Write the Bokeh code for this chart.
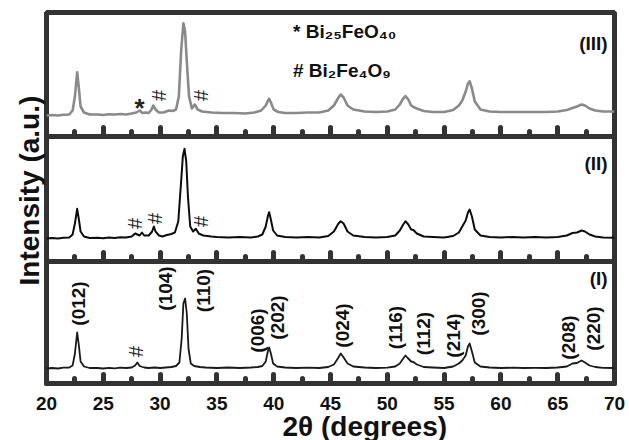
import numpy as np
from bokeh.plotting import figure
from bokeh.models import Range1d, LinearAxis, SingleIntervalTicker, Title
from bokeh.core.properties import value
from bokeh.embed import file_html
from bokeh.resources import INLINE

# ---------------- data ----------------
# Pattern (I) - bottom panel
two_theta_I = [20.0, 20.5, 21.0, 21.5, 22.0, 22.3, 22.5, 22.7, 22.85, 23.0, 23.3, 23.8, 24.5, 25.0, 25.5, 26.0,
               26.5, 27.0, 27.5, 27.8, 28.0, 28.2, 28.6, 29.0, 29.5, 30.0, 30.5, 31.0, 31.4, 31.7, 31.9, 32.05,
               32.2, 32.35, 32.5, 32.7, 33.0, 33.5, 34.0, 35.0, 36.0, 37.0, 38.0, 38.6, 39.0, 39.3, 39.5, 39.6,
               39.75, 39.95, 40.3, 41.0, 42.0, 43.0, 44.0, 44.8, 45.3, 45.7, 45.9, 46.1, 46.5, 47.0, 48.0, 49.0,
               50.0, 50.7, 51.1, 51.4, 51.6, 51.8, 52.1, 52.3, 52.6, 53.2, 54.0, 55.0, 55.8, 56.3, 56.6, 56.9,
               57.1, 57.25, 57.45, 57.7, 58.2, 59.0, 60.0, 61.0, 62.0, 63.0, 64.0, 65.0, 65.8, 66.3, 66.7, 67.1,
               67.4, 67.8, 68.3, 69.0, 70.0]
intensity_I = [15, 15.5, 15, 15.8, 16, 18, 30, 51, 38, 22, 17, 15.5, 15.5, 15, 15.7, 15.2,
               15.8, 15.5, 16, 18, 21, 17.5, 16, 15.5, 16, 15.5, 16, 16.5, 17.5, 21, 45, 80,
               85, 70, 35, 20, 17.5, 16.5, 16, 15.5, 16, 15.5, 16, 16.5, 17.5, 22, 33, 36,
               30, 20, 17, 16, 15.5, 15.8, 15.5, 16.5, 19, 26, 30, 27, 20, 17, 16, 15.5,
               15.8, 17, 20, 25, 28, 25.5, 22, 21.5, 19, 16.5, 16, 15.5, 17, 20, 23, 28,
               37, 40, 32, 21, 17, 16, 15.5, 15.8, 15.5, 15.6, 15.5, 16, 17, 20, 20.5, 23,
               21, 18, 16.5, 15.7, 15.5]

# Pattern (II) - middle panel
two_theta_II = [20.0, 20.5, 21.0, 21.5, 22.0, 22.3, 22.5, 22.7, 22.85, 23.0, 23.3, 23.8, 24.5, 25.0, 25.5, 26.0,
                26.5, 27.0, 27.5, 27.8, 28.0, 28.2, 28.4, 28.6, 29.0, 29.3, 29.45, 29.6, 29.9, 30.2, 30.6, 31.0,
                31.3, 31.6, 31.85, 32.0, 32.15, 32.3, 32.45, 32.65, 32.9, 33.15, 33.4, 33.8, 34.5, 35.0, 36.0, 37.0,
                38.0, 38.6, 39.0, 39.3, 39.5, 39.6, 39.75, 39.95, 40.3, 41.0, 42.0, 43.0, 44.0, 44.8, 45.3, 45.7,
                45.9, 46.15, 46.5, 47.0, 48.0, 49.0, 50.0, 50.7, 51.1, 51.4, 51.6, 51.85, 52.1, 52.3, 52.6, 53.2,
                54.0, 55.0, 55.8, 56.3, 56.6, 56.9, 57.1, 57.25, 57.45, 57.7, 58.2, 59.0, 60.0, 61.0, 62.0, 63.0,
                64.0, 65.0, 65.8, 66.3, 66.7, 67.1, 67.4, 67.8, 68.3, 69.0, 70.0]
intensity_II = [23, 23.5, 23, 23.8, 24, 27, 38, 52.7, 42, 30, 25, 23.5, 23.8, 23.2, 24, 23.5,
                24.2, 24, 25, 28, 27, 26, 29, 26, 26, 30, 35, 30, 26, 25, 26.5, 27.5,
                29, 40, 80, 105, 112.7, 100, 65, 35, 30, 32.7, 28, 26, 25, 24.5, 24, 24.5,
                24, 25, 27, 35, 46, 49.3, 42, 31, 26, 24.5, 24, 24.5, 24, 25.5, 30, 38,
                40.3, 38, 30, 26, 24.5, 24, 24.5, 26, 31, 37, 40.3, 37, 32, 31.5, 28, 25,
                24.5, 24, 25.5, 29, 35, 41, 49, 52, 45, 32, 26, 24.5, 24, 24.5, 24, 24.5,
                24, 24.5, 26, 28.5, 29, 31, 30, 27, 25, 24, 23.8]

# Pattern (III) - top panel
two_theta_III = [20.0, 20.5, 21.0, 21.5, 22.0, 22.3, 22.5, 22.7, 22.85, 23.0, 23.3, 23.8, 24.5, 25.0, 25.5, 26.0,
                 26.5, 27.0, 27.5, 27.9, 28.2, 28.45, 28.7, 29.0, 29.25, 29.4, 29.6, 29.9, 30.3, 30.77, 31.1, 31.4,
                 31.65, 31.85, 32.05, 32.2, 32.35, 32.55, 32.8, 33.05, 33.3, 33.7, 34.5, 35.5, 36.5, 37.5, 38.3, 38.9,
                 39.3, 39.5, 39.6, 39.75, 40.0, 40.4, 41.0, 42.0, 43.0, 44.0, 44.8, 45.3, 45.7, 45.9, 46.15, 46.5,
                 47.0, 48.0, 49.0, 50.0, 50.7, 51.1, 51.4, 51.6, 51.85, 52.1, 52.3, 52.6, 53.2, 54.0, 55.0, 55.8,
                 56.3, 56.6, 56.9, 57.1, 57.25, 57.45, 57.7, 58.2, 59.0, 60.0, 61.0, 62.0, 63.0, 64.0, 65.0, 65.8,
                 66.3, 66.7, 67.1, 67.4, 67.8, 68.3, 69.0, 70.0]
intensity_III = [21, 21.5, 21, 21.8, 22, 26, 40, 64.3, 48, 30, 24, 22, 22, 21.5, 22.3, 22,
                 22.5, 22, 23, 24, 26, 23.5, 24, 23.5, 27, 31, 27, 24, 24, 26, 25.5, 27,
                 40, 85, 113.3, 105, 75, 40, 28, 32, 27, 25, 24, 23.5, 23.5, 23, 24, 26,
                 31, 36, 37.7, 34, 27, 24.5, 23.5, 23.5, 24, 24, 26, 31, 39, 42, 39, 31,
                 27, 25, 24.5, 25, 27, 32, 38, 40.3, 37, 31, 29.5, 28, 25.5, 24.5, 24.5, 26.5,
                 31, 36, 45, 53, 55.3, 48, 35, 27, 25, 24.5, 24.5, 24.5, 24.5, 24.5, 25, 26.5,
                 28.5, 30, 32, 31, 28, 26, 25, 25]

# vertical offsets (bottom of each panel) and panel tags
panel_base = [0, 122, 247]
panel_tags = ["(I)", "(II)", "(III)"]
panel_tag_y = [105, 220, 340]

# Miller indices of the bottom pattern
hkl_text = ["(012)", "(104)", "(110)", "(006)", "(202)", "(024)", "(116)", "(112)", "(214)", "(300)", "(208)", "(220)"]
hkl_x = [22.8, 30.5, 33.8, 38.6, 40.3, 46.1, 50.7, 53.2, 55.8, 58.0, 65.95, 68.15]
hkl_y = [80, 95, 93, 53, 66, 58, 56, 50, 48, 70, 46, 55]

# impurity markers
hash_x = [29.86, 33.56, 27.83, 29.51, 33.64, 27.92]
hash_y = [288, 288, 160, 165, 162, 32]
star_x = [28.19]
star_y = [276]

legend_text = ["* Bi\u2082\u2085FeO\u2084\u2080", "# Bi\u2082Fe\u2084O\u2089"]
legend_x = [41.7, 41.7]
legend_y = [352, 313]

x_ticks_interval = 5

# ---------------- figure ----------------
FONT = "Liberation Sans"
DARK = "#333333"

p = figure(width=629, height=440, output_backend="svg", toolbar_location=None,
           x_range=Range1d(20, 70), y_range=Range1d(0, 371),
           min_border_left=46, min_border_right=15, min_border_top=12, min_border_bottom=57)
p.background_fill_color = "white"
p.border_fill_color = "white"
p.grid.visible = False
p.outline_line_width = 5
p.outline_line_color = DARK
p.yaxis.visible = False


def style_x(ax):
    ax.ticker = SingleIntervalTicker(interval=x_ticks_interval, num_minor_ticks=2)
    ax.major_tick_in = 9
    ax.major_tick_out = 0
    ax.minor_tick_in = 5
    ax.minor_tick_out = 0
    ax.major_tick_line_width = 5
    ax.minor_tick_line_width = 5
    ax.major_tick_line_cap = "round"
    ax.minor_tick_line_cap = "round"
    ax.major_tick_line_color = DARK
    ax.minor_tick_line_color = DARK


xa = p.xaxis[0]
style_x(xa)
xa.axis_line_color = None
xa.major_label_standoff = 13
xa.major_label_text_font = FONT
xa.major_label_text_font_style = "bold"
xa.major_label_text_font_size = "19px"
xa.major_label_text_color = "#111111"

for yb in panel_base[1:]:
    ax = LinearAxis(fixed_location=yb)
    style_x(ax)
    ax.axis_line_width = 5
    ax.axis_line_color = DARK
    ax.major_label_text_color = None
    ax.major_label_text_font_size = "1px"
    ax.major_label_standoff = 0
    p.add_layout(ax, "below")

# axis titles
p.add_layout(Title(text="2\u03b8 (degrees)", align="left", offset=236, standoff=-8,
                   text_font=FONT, text_font_style="bold", text_font_size="28px",
                   text_color="#111111"), "below")
p.add_layout(Title(text="Intensity (a.u.)", align="left", offset=98, standoff=4,
                   text_font=FONT, text_font_style="bold", text_font_size="28px",
                   text_color="#111111"), "left")

# spectra
colors = ["#1a1a1a", "#0d0d0d", "#8a8a8a"]
widths = [1.8, 2.0, 2.6]
for xs, ys, base, c, w in zip([two_theta_I, two_theta_II, two_theta_III],
                              [intensity_I, intensity_II, intensity_III],
                              panel_base, colors, widths):
    p.line(xs, np.array(ys) + base, line_color=c, line_width=w, line_join="round")

# texts
p.text(x=hkl_x, y=hkl_y, text=hkl_text, angle=np.pi / 2, text_font=value(FONT), text_font_style="bold",
       text_font_size="19px", text_align="center", text_baseline="middle", text_color="#111111")
p.text(x=[69.4] * 3, y=panel_tag_y, text=panel_tags, text_font=value(FONT), text_font_style="bold",
       text_font_size="19px", text_align="right", text_baseline="middle", text_color="#111111")
p.text(x=hash_x, y=hash_y, text=["#"] * len(hash_x), angle=np.pi / 2, text_font=value(FONT),
       text_font_size="20px", text_align="center", text_baseline="middle", text_color="#222222")
p.text(x=star_x, y=star_y, text=["*"], text_font=value(FONT), text_font_style="bold",
       text_font_size="26px", text_align="center", text_baseline="middle", text_color="#222222")
p.text(x=legend_x, y=legend_y, text=legend_text, text_font=value(FONT), text_font_style="bold",
       text_font_size="19px", text_align="left", text_baseline="middle", text_color="#111111")

open("out.html", "w").write(file_html(p, INLINE))
